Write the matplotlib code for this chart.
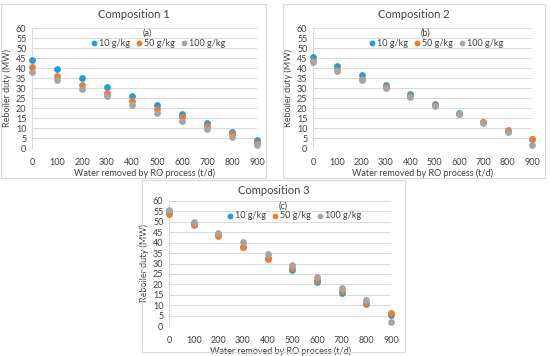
import matplotlib
matplotlib.use("Agg")
import matplotlib.pyplot as plt
from matplotlib.patches import Rectangle

plt.rcParams['font.family'] = ['Lato', 'DejaVu Sans']

x = [0, 100, 200, 300, 400, 500, 600, 700, 800, 900]
labels = ['10 g/kg', '50 g/kg', '100 g/kg']
colors = ['#1C9FE0', '#F07C2A', '#A5A5A5']

c1_10 = [43.9, 39.6, 34.9, 30.3, 25.8, 21.3, 16.8, 12.4, 8.0, 3.9]
c1_50 = [40.4, 36.0, 31.5, 27.6, 23.6, 19.4, 15.3, 11.0, 6.9, 2.5]
c1_100 = [38.0, 33.9, 29.7, 25.8, 21.6, 17.6, 13.6, 9.6, 5.5, 1.3]

c2_10 = [45.5, 41.2, 36.3, 31.7, 26.8, 22.2, 17.5, 13.0, 8.7, 4.5]
c2_50 = [43.7, 39.2, 34.5, 30.5, 26.0, 21.7, 17.2, 12.8, 8.8, 4.5]
c2_100 = [42.8, 38.3, 34.0, 29.8, 25.5, 21.2, 17.0, 12.5, 8.2, 1.7]

c3_10 = [54.5, 49.0, 44.0, 38.0, 32.5, 26.8, 21.2, 15.9, 10.6, 5.1]
c3_50 = [53.9, 48.3, 43.0, 37.9, 32.4, 27.8, 22.3, 16.8, 11.2, 6.1]
c3_100 = [55.5, 50.1, 44.8, 40.3, 34.7, 29.2, 23.6, 18.1, 12.5, 1.8]

panels = [
    ("Composition 1", "(a)", [c1_10, c1_50, c1_100]),
    ("Composition 2", "(b)", [c2_10, c2_50, c2_100]),
    ("Composition 3", "(c)", [c3_10, c3_50, c3_100]),
]

W, H = 550, 356
fig = plt.figure(figsize=(W / 100, H / 100), dpi=100)

def fx(px):
    return px / W

def fy(py):
    return 1 - py / H

# axes in pixel coords: (x0, x1, ytop, ybottom)
axes_px = [(32, 257, 28, 148), (313, 532, 28, 148), (169, 391, 201, 326)]
frames_px = [(1, 4, 266, 178), (283, 4, 545, 178), (142, 180, 405, 352)]

for (fx0, fy0, fx1, fy1) in frames_px:
    fig.patches.append(Rectangle((fx(fx0), fy(fy1)), fx(fx1 - fx0), (fy1 - fy0) / H,
                                 transform=fig.transFigure, fill=False,
                                 edgecolor='#D9D9D9', linewidth=0.8))

for (title, tag, series), (x0, x1, yt, yb), (fx0, fy0, fx1, fy1) in zip(panels, axes_px, frames_px):
    ax = fig.add_axes([fx(x0), fy(yb), fx(x1 - x0), (yb - yt) / H])
    for vals, lab, col in zip(series, labels, colors):
        ax.scatter(x, vals, s=24, color=col, label=lab, clip_on=False, zorder=3, linewidths=0)
    ax.set_xlim(0, 900)
    ax.set_ylim(0, 60)
    ax.set_xticks(x)
    ax.set_yticks(range(0, 61, 5))
    ax.grid(axis='y', color='#D9D9D9', linewidth=0.7)
    ax.set_axisbelow(True)
    for s in ['top', 'right', 'bottom']:
        ax.spines[s].set_visible(False)
    ax.spines['left'].set_color('#D9D9D9')
    ax.spines['left'].set_linewidth(0.7)
    ax.tick_params(length=0, labelsize=6.5, labelcolor='#404040', pad=4)
    ax.tick_params(axis='x', pad=7)
    ax.set_ylabel('Reboiler duty (MW)', fontsize=6.5, color='#404040', labelpad=3)
    ax.set_xlabel('Water removed by RO process (t/d)', fontsize=6.5, color='#404040', labelpad=1)
    fig.text(fx((fx0 + fx1) / 2), fy(fy0 + 11), title,
             ha='center', va='center', fontsize=8, color='#404040')
    fig.text(fx((x0 + x1) / 2 + 3), fy(yt + 5), tag, ha='center', va='center',
             fontsize=6.5, color='#404040')
    leg = ax.legend(loc='center',
                    bbox_to_anchor=(0.5 + 14 / (x1 - x0), (yb - (yt + 15)) / (yb - yt)),
                    ncol=3, frameon=False, fontsize=6.5, handletextpad=0.25,
                    handlelength=0.6, columnspacing=0.7, markerscale=0.85, borderpad=0)
    for t in leg.get_texts():
        t.set_color('#404040')

fig.savefig('out.png', dpi=100)
